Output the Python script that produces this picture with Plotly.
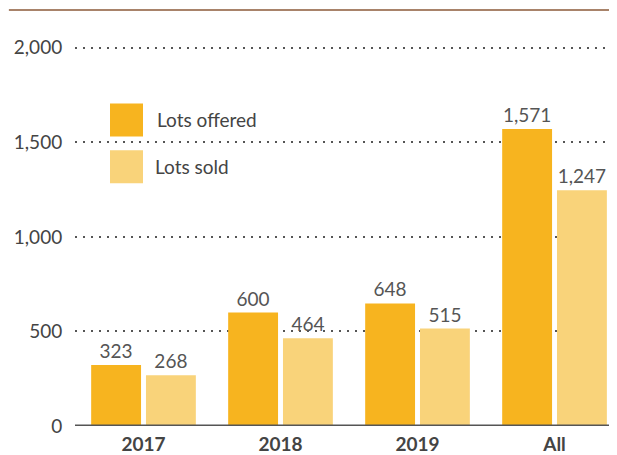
import plotly.graph_objects as go

categories = ["2017", "2018", "2019", "All"]
lots_offered = [323, 600, 648, 1571]
lots_sold = [268, 464, 515, 1247]
series_names = ["Lots offered", "Lots sold"]
tick_vals = [0, 500, 1000, 1500, 2000]
tick_text = ["0", "500", "1,000", "1,500", "2,000"]

c_off = "#F7B41F"
c_sold = "#F9D37A"

fig = go.Figure()
for name, vals, col in zip(series_names, [lots_offered, lots_sold], [c_off, c_sold]):
    fig.add_trace(go.Bar(
        x=categories, y=vals, name=name, marker=dict(color=col, line_width=0),
        text=[f"{v:,}" for v in vals], textposition="outside", cliponaxis=False,
        textfont=dict(family="Lato", size=19, color="#555555"),
    ))

# page body adds 8px offset, so figure is 8px smaller than the window
fig.update_layout(
    width=609, height=447,
    margin=dict(l=67, r=0, t=2, b=27),
    paper_bgcolor="white", plot_bgcolor="white",
    barmode="group", bargap=0.2, bargroupgap=0.09,
    showlegend=False,
    font=dict(family="Lato", color="#444444"),
    xaxis=dict(range=[-0.5, 3.456], showgrid=False, zeroline=False, showline=False,
               tickfont=dict(family="Lato", size=19, color="#444444", weight="bold"),
               ticks="outside", ticklen=1, tickcolor="rgba(0,0,0,0)"),
    yaxis=dict(range=[0, 2200], tickvals=tick_vals, ticktext=tick_text,
               showgrid=True, gridcolor="#555555", griddash="2px,6px", gridwidth=1.5,
               zeroline=False, showline=False,
               tickfont=dict(family="Lato", size=19, color="#444444"),
               ticks="outside", ticklen=8, tickcolor="rgba(0,0,0,0)"),
)

# top rule and baseline
fig.add_shape(type="line", xref="paper", yref="paper", x0=-0.122, x1=1, y0=1, y1=1,
              line=dict(color="#A8836A", width=2))
fig.add_shape(type="line", xref="paper", yref="y", x0=0, x1=1, y0=0, y1=0,
              line=dict(color="#555555", width=3))

# legend drawn as boxes + labels
for i, (name, col) in enumerate(zip(series_names, [c_off, c_sold])):
    y_top = 1 - (94 + 47 * i) / 418
    fig.add_shape(type="rect", xref="paper", yref="paper",
                  x0=35 / 542, x1=68 / 542, y0=y_top - 33 / 418, y1=y_top,
                  fillcolor=col, line_width=0)
    fig.add_annotation(xref="paper", yref="paper", x=(80 - i * 2) / 542, y=y_top - 16 / 418,
                       text=name, showarrow=False, xanchor="left", yanchor="middle",
                       font=dict(family="Lato", size=19, color="#444444"))

fig.write_html("out.html")
